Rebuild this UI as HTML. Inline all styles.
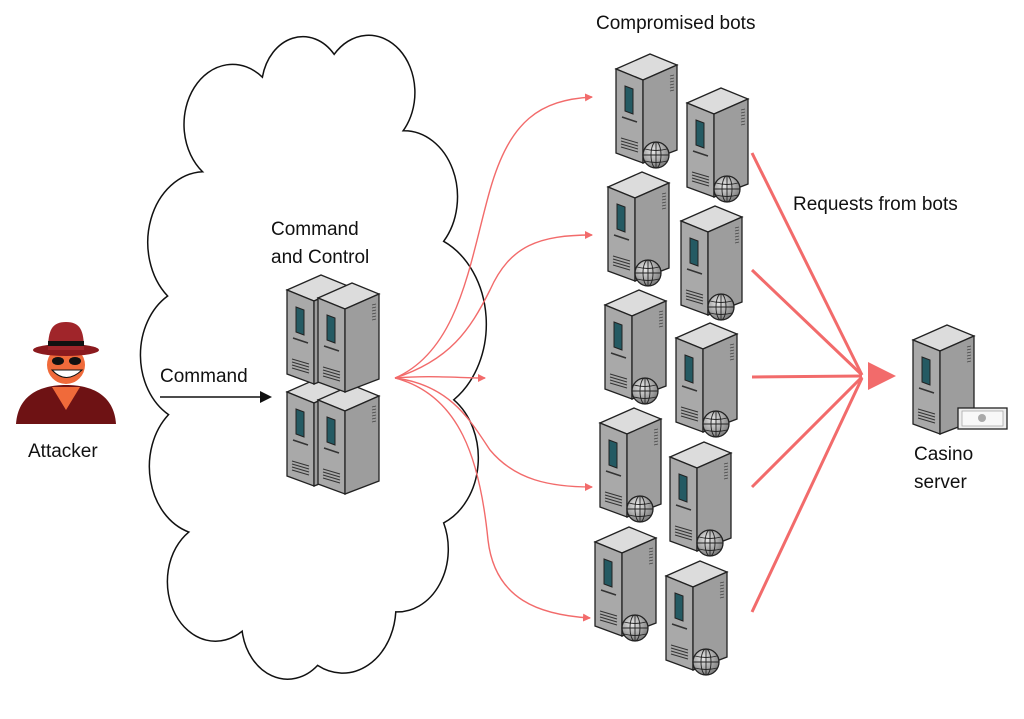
<!DOCTYPE html>
<html><head><meta charset="utf-8"><style>
html,body{margin:0;padding:0;background:#fff;}
svg{display:block;font-family:"Liberation Sans",sans-serif;}
</style></head><body>
<svg width="1024" height="719" viewBox="0 0 1024 719" xmlns="http://www.w3.org/2000/svg">
<defs>
<radialGradient id="gl" cx="0.4" cy="0.35" r="0.7"><stop offset="0" stop-color="#e8e8e8"/><stop offset="1" stop-color="#777"/></radialGradient>
<g id="srv">
  <polygon points="0,15 34,0 61,11 27,26" fill="#dcdcdc" stroke="#222" stroke-width="1.3"/>
  <polygon points="0,15 27,26 27,109 0,99" fill="#a9a9a9" stroke="#222" stroke-width="1.3"/>
  <polygon points="27,26 61,11 61,96 27,109" fill="#9d9d9d" stroke="#222" stroke-width="1.3"/>
  <polygon points="9,32 17,35 17,60 9,57" fill="#245a63" stroke="#222" stroke-width="1"/>
  <line x1="6" y1="63" x2="21" y2="68" stroke="#333" stroke-width="1.5"/>
  <g stroke="#333" stroke-width="1">
  <line x1="5" y1="84" x2="22" y2="89"/><line x1="5" y1="87" x2="22" y2="92"/><line x1="5" y1="90" x2="22" y2="95"/><line x1="5" y1="93" x2="22" y2="98"/>
  </g>
  <g stroke="#444" stroke-width="0.8">
  <line x1="54" y1="22" x2="58" y2="21"/><line x1="54" y1="25" x2="58" y2="24"/><line x1="54" y1="28" x2="58" y2="27"/><line x1="54" y1="31" x2="58" y2="30"/><line x1="54" y1="34" x2="58" y2="33"/><line x1="54" y1="37" x2="58" y2="36"/>
  </g>
</g>
<g id="globe">
  <circle cx="0" cy="0" r="13" fill="url(#gl)" stroke="#222" stroke-width="1.3"/>
  <g fill="none" stroke="#222" stroke-width="0.9">
  <ellipse cx="0" cy="0" rx="5" ry="13"/><line x1="0" y1="-13" x2="0" y2="13"/>
  <line x1="-13" y1="0" x2="13" y2="0"/><path d="M-11,-6 Q0,-3 11,-6"/><path d="M-11,6 Q0,9 11,6"/>
  </g>
</g>
<g id="bot"><use href="#srv"/><use href="#globe" x="40" y="101"/></g>
<marker id="ra" markerWidth="8" markerHeight="8" refX="7" refY="4" orient="auto" markerUnits="userSpaceOnUse"><path d="M0,0 L8,4 L0,8z" fill="#f26b6b"/></marker>
</defs>

<!-- cloud -->
<path transform="matrix(0.92 0 0 1.14 27.8 -52.8)" vector-effect="non-scaling-stroke" d="M190,197 A45,45 0 0 1 255,114 A45,45 0 0 1 333,94 A50,50 0 0 1 408,161 A58,58 0 0 1 452,258 A80,80 0 0 1 463,397 A62,62 0 0 1 452,505 A55,55 0 0 1 400,583 A58,58 0 0 1 315,630 A50,50 0 0 1 233,600 A52,52 0 0 1 175,513 A60,60 0 0 1 153,410 A60,60 0 0 1 152,306 A62,62 0 0 1 190,197 Z" fill="#fff" stroke="#111" stroke-width="1.5"/>

<!-- red curves -->
<g fill="none" stroke="#f26b6b" stroke-width="1.4" marker-end="url(#ra)">
<path d="M395,378 C460,350 470,260 490,190 C510,120 540,100 592,97"/>
<path d="M395,378 C450,360 470,330 490,290 C510,245 540,235 592,235"/>
<path d="M395,378 C430,375 460,378 485,378"/>
<path d="M395,378 C450,385 470,420 490,450 C515,480 550,487 592,487"/>
<path d="M395,378 C460,395 480,460 488,540 C495,600 540,615 590,618"/>
</g>

<!-- thick red lines -->
<g stroke="#f26b6b" stroke-width="3" fill="none">
<line x1="752" y1="153" x2="862" y2="375"/>
<line x1="752" y1="270" x2="862" y2="375"/>
<line x1="752" y1="377" x2="862" y2="376"/>
<line x1="752" y1="487" x2="862" y2="377"/>
<line x1="752" y1="612" x2="862" y2="378"/>
</g>
<polygon points="868,362 896,376 868,390" fill="#f26b6b"/>

<!-- bots -->
<use href="#bot" x="616" y="54"/><use href="#bot" x="687" y="88"/>
<use href="#bot" x="608" y="172"/><use href="#bot" x="681" y="206"/>
<use href="#bot" x="605" y="290"/><use href="#bot" x="676" y="323"/>
<use href="#bot" x="600" y="408"/><use href="#bot" x="670" y="442"/>
<use href="#bot" x="595" y="527"/><use href="#bot" x="666" y="561"/>

<!-- C&C -->
<use href="#srv" x="287" y="377"/>
<use href="#srv" x="318" y="385"/>
<use href="#srv" x="287" y="275"/>
<use href="#srv" x="318" y="283"/>

<!-- casino -->
<use href="#srv" x="913" y="325"/>
<rect x="958" y="408" width="49" height="21" fill="#eee" stroke="#222" stroke-width="1.3"/>
<rect x="962" y="411" width="41" height="15" fill="#f8f8f8" stroke="#aaa" stroke-width="0.8"/>
<circle cx="982" cy="418" r="4" fill="#aaa"/>

<!-- command arrow -->
<line x1="160" y1="397" x2="262" y2="397" stroke="#111" stroke-width="1.5"/>
<polygon points="260,391 272,397 260,403" fill="#111"/>

<!-- attacker -->
<g>
<path d="M16,424 C18,395 40,385 66,385 C92,385 114,395 116,424 Z" fill="#6e1214"/>
<path d="M52,387 L66,410 L80,387 Z" fill="#f06a3a"/>
<circle cx="66" cy="365" r="19" fill="#f06a3a"/>
<ellipse cx="66" cy="350" rx="33" ry="6" fill="#8b1a1e"/>
<path d="M48,350 C48,330 52,322 66,322 C80,322 84,330 84,350 Z" fill="#a0252a"/>
<rect x="48" y="341" width="36" height="5" fill="#111"/>
<ellipse cx="58" cy="361" rx="6" ry="4" fill="#111"/><ellipse cx="75" cy="361" rx="6" ry="4" fill="#111"/>
<path d="M52,370 Q66,385 82,370 Z" fill="#fff" stroke="#111" stroke-width="1"/>
</g>

<!-- text -->
<g fill="#111" font-size="19">
<text x="596" y="29">Compromised bots</text>
<text x="793" y="210">Requests from bots</text>
<text x="271" y="235">Command</text>
<text x="271" y="263">and Control</text>
<text x="160" y="382">Command</text>
<text x="28" y="457">Attacker</text>
<text x="914" y="460">Casino</text>
<text x="914" y="488">server</text>
</g>
</svg>
</body></html>
